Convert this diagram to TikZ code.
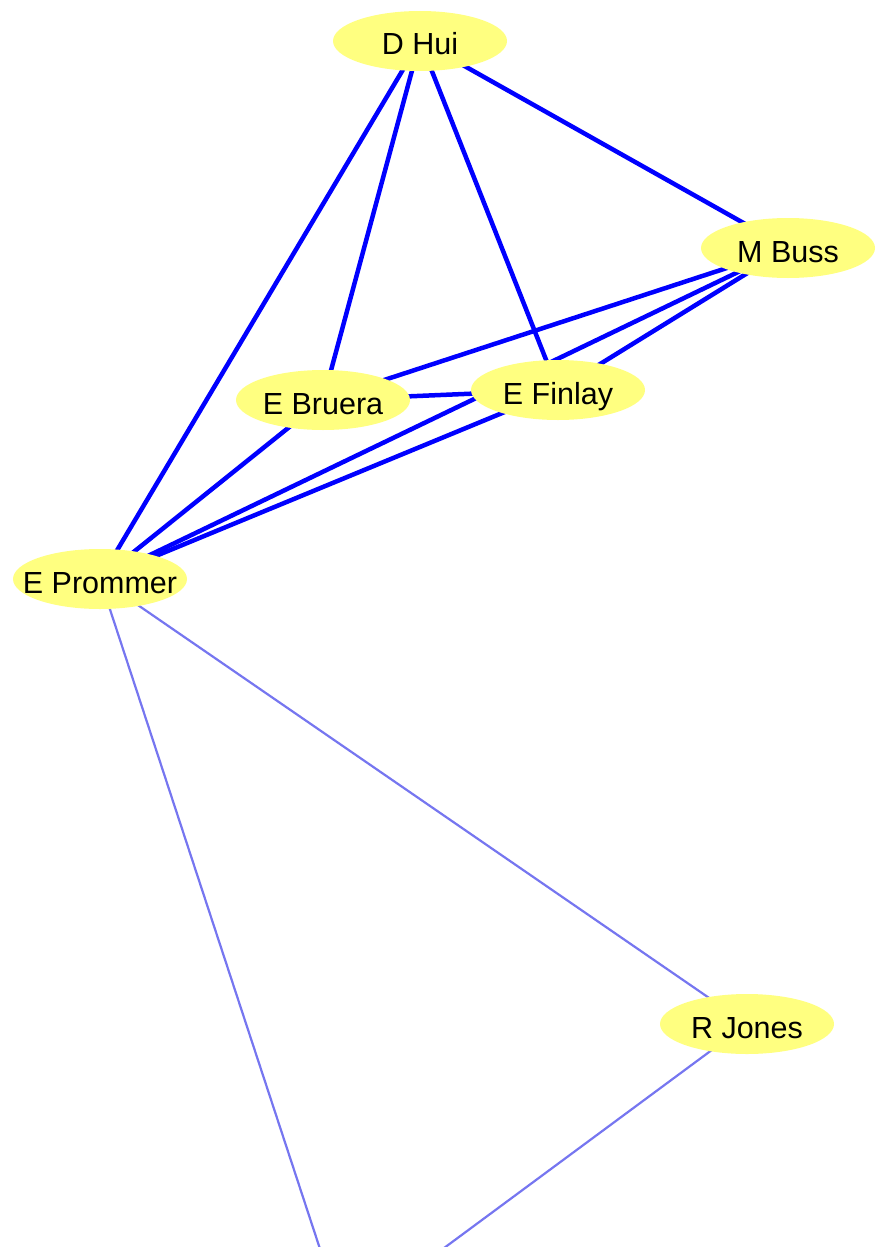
\documentclass[tikz,border=0pt]{standalone}
\usepackage{fontspec}
\setmainfont{Liberation Sans}
\usetikzlibrary{shapes.geometric}
\pgfdeclarelayer{edges}
\pgfsetlayers{edges,main}
\definecolor{nodefill}{RGB}{255,255,128}
\definecolor{strong}{RGB}{0,0,255}
\definecolor{weak}{RGB}{118,118,240}
\newcommand\nlab[1]{\makebox[0pt]{\smash{\raisebox{-14pt}{#1}}}}
\tikzset{
  person/.style={shape=ellipse, fill=nodefill, draw=none, minimum width=174pt, minimum height=60pt, inner sep=0pt, font=\fontsize{30.5}{36}\selectfont},
  strongedge/.style={draw=strong, line width=4.5pt},
  weakedge/.style={draw=weak, line width=2.2pt}
}
\begin{document}
\begin{tikzpicture}[x=1pt,y=-1pt]
\useasboundingbox (0,0) rectangle (881,1247);
\clip (0,0) rectangle (881,1247);
\node[person] (hui) at (420,41) {\nlab{D Hui}};
\node[person] (buss) at (788,248) {\nlab{M Buss}};
\node[person] (bruera) at (323,400) {\nlab{E Bruera}};
\node[person] (finlay) at (558,390) {\nlab{E Finlay}};
\node[person] (prommer) at (100,579) {\nlab{E Prommer}};
\node[person] (jones) at (747,1024) {\nlab{R Jones}};
\coordinate (hidden) at (344,1322);
\begin{pgfonlayer}{edges}
\draw[strongedge] (hui.center) -- (prommer.center);
\draw[strongedge] (hui.center) -- (bruera.center);
\draw[strongedge] (hui.center) -- (finlay.center);
\draw[strongedge] (hui.center) -- (buss.center);
\draw[strongedge] (buss.center) -- (bruera.center);
\draw[strongedge] (buss.center) -- (finlay.center);
\draw[strongedge] (buss.center) -- (prommer.center);
\draw[strongedge] (bruera.center) -- (finlay.center);
\draw[strongedge] (bruera.center) -- (prommer.center);
\draw[strongedge] (finlay.center) -- (prommer.center);
\draw[weakedge] (prommer.center) -- (jones.center);
\draw[weakedge] (prommer.center) -- (hidden);
\draw[weakedge] (jones.center) -- (hidden);
\end{pgfonlayer}
\end{tikzpicture}
\end{document}
